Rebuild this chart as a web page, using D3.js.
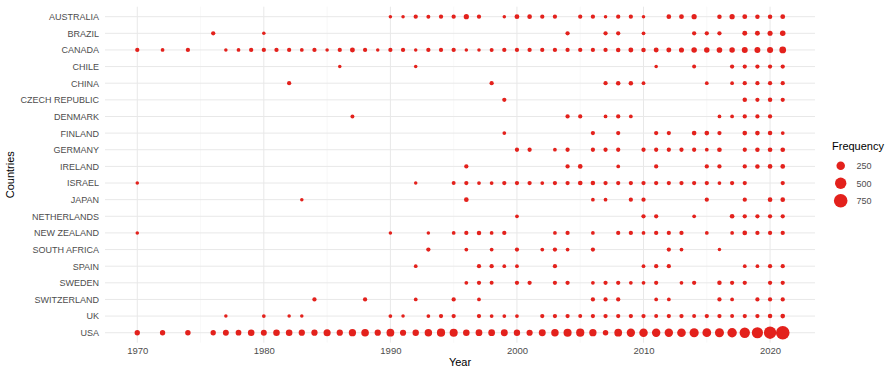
<!DOCTYPE html>
<html><head><meta charset="utf-8">
<script src="https://cdn.jsdelivr.net/npm/d3@7"></script>
<style>body{margin:0;background:#fff}text{font-family:"Liberation Sans",Arial,sans-serif}</style>
</head><body><svg id="chart" width="894" height="369"></svg>
<script>
const countries = ["AUSTRALIA","BRAZIL","CANADA","CHILE","CHINA","CZECH REPUBLIC","DENMARK","FINLAND","GERMANY","IRELAND","ISRAEL","JAPAN","NETHERLANDS","NEW ZEALAND","SOUTH AFRICA","SPAIN","SWEDEN","SWITZERLAND","UK","USA"];
const xTicks = [1970,1980,1990,2000,2010,2020];
const legendValues = [250,500,750];
// [year, frequency]
const australia = [[1990,20],[1991,20],[1992,38],[1993,30],[1994,38],[1995,38],[1996,70],[1997,38],[1999,20],[2000,55],[2001,50],[2002,38],[2003,38],[2005,38],[2006,38],[2007,20],[2008,38],[2009,38],[2010,20],[2012,50],[2013,55],[2014,70],[2016,45],[2017,70],[2018,55],[2019,45],[2020,45],[2021,55]];
const brazil = [[1976,38],[1980,20],[2004,38],[2007,38],[2008,38],[2010,25],[2014,38],[2015,38],[2016,38],[2018,60],[2019,60],[2020,65],[2021,80]];
const canada = [[1970,38],[1972,25],[1974,38],[1977,20],[1978,25],[1979,38],[1980,38],[1981,38],[1982,38],[1983,25],[1984,38],[1985,20],[1986,38],[1987,60],[1988,38],[1989,20],[1990,38],[1991,38],[1992,20],[1993,38],[1994,38],[1995,38],[1996,20],[1997,20],[1998,30],[1999,38],[2000,38],[2001,38],[2002,38],[2003,38],[2004,38],[2005,38],[2006,38],[2007,38],[2008,45],[2009,60],[2010,45],[2011,60],[2012,60],[2013,65],[2014,80],[2015,80],[2016,85],[2017,80],[2018,100],[2019,100],[2020,105],[2021,140]];
const chile = [[1986,20],[1992,20],[2011,20],[2014,30],[2017,38],[2018,38],[2019,38],[2020,38],[2021,38]];
const china = [[1982,38],[1998,38],[2007,38],[2008,45],[2009,45],[2010,25],[2015,25],[2017,25],[2018,38],[2019,38],[2020,38],[2021,38]];
const czech = [[1999,38],[2018,45],[2019,38],[2020,45],[2021,38]];
const denmark = [[1987,30],[2004,38],[2005,38],[2007,25],[2008,38],[2009,25],[2016,25],[2017,25],[2018,38],[2019,38],[2020,38]];
const finland = [[1999,25],[2006,38],[2008,38],[2011,38],[2012,38],[2014,50],[2015,50],[2016,38],[2018,50],[2019,50],[2020,45],[2021,25]];
const germany = [[2000,38],[2001,38],[2003,25],[2004,38],[2006,38],[2007,38],[2008,38],[2010,38],[2011,38],[2012,38],[2013,38],[2014,38],[2015,25],[2016,50],[2018,38],[2019,45],[2020,50],[2021,50]];
const ireland = [[1996,38],[2004,38],[2005,50],[2008,25],[2011,38],[2015,38],[2016,38],[2018,38],[2019,45],[2020,50],[2021,50]];
const israel = [[1970,20],[1992,20],[1995,30],[1996,38],[1997,25],[1998,25],[1999,38],[2000,38],[2001,38],[2002,25],[2003,38],[2004,38],[2005,50],[2006,45],[2007,38],[2008,38],[2009,38],[2010,38],[2011,38],[2012,38],[2013,38],[2014,38],[2015,38],[2016,25],[2017,38],[2018,38],[2021,38]];
const japan = [[1983,20],[1996,50],[2006,25],[2007,25],[2009,38],[2010,38],[2015,38],[2018,38],[2020,50],[2021,50]];
const netherlands = [[2000,25],[2010,38],[2011,38],[2014,25],[2017,50],[2018,38],[2019,38],[2020,38],[2021,38]];
const newZealand = [[1970,20],[1990,20],[1993,20],[1995,25],[1996,38],[1997,45],[1998,25],[1999,38],[2003,25],[2004,38],[2006,25],[2008,38],[2009,38],[2010,25],[2011,38],[2012,38],[2013,38],[2015,25],[2017,25],[2018,50],[2019,38],[2020,38],[2021,38]];
const southAfrica = [[1993,38],[1996,25],[1998,25],[2000,38],[2002,25],[2003,38],[2004,25],[2006,38],[2012,38],[2013,25],[2016,20]];
const spain = [[1992,25],[1997,38],[1998,38],[1999,25],[2000,25],[2003,38],[2010,25],[2011,38],[2012,38],[2018,25],[2019,25],[2020,38],[2021,38]];
const sweden = [[1996,25],[1997,38],[1998,30],[2000,38],[2001,38],[2003,38],[2004,38],[2006,25],[2007,38],[2008,38],[2009,25],[2010,25],[2011,38],[2013,25],[2014,38],[2016,45],[2017,38],[2018,38],[2020,38],[2021,38]];
const switzerland = [[1984,38],[1988,38],[1992,25],[1995,38],[1997,25],[2006,38],[2007,38],[2008,38],[2011,25],[2012,25],[2016,38],[2017,25],[2019,38],[2020,38],[2021,38]];
const uk = [[1977,20],[1980,25],[1982,20],[1983,20],[1990,25],[1991,20],[1993,25],[1994,38],[1995,38],[1997,38],[1998,25],[1999,25],[2000,25],[2002,38],[2003,38],[2004,38],[2005,30],[2006,38],[2007,38],[2008,38],[2009,38],[2010,38],[2011,30],[2012,38],[2013,38],[2014,30],[2015,38],[2016,38],[2017,30],[2018,38],[2019,38],[2020,45],[2021,50]];
const usa = [[1970,74],[1972,74],[1974,80],[1976,74],[1977,100],[1978,90],[1979,130],[1980,100],[1981,130],[1982,130],[1983,115],[1984,115],[1985,160],[1986,115],[1987,170],[1988,190],[1989,115],[1990,200],[1991,110],[1992,120],[1993,180],[1994,230],[1995,220],[1996,130],[1997,140],[1998,140],[1999,150],[2000,120],[2001,110],[2002,150],[2003,180],[2004,220],[2005,230],[2006,170],[2007,80],[2008,200],[2009,240],[2010,250],[2011,245],[2012,245],[2013,260],[2014,300],[2015,270],[2016,290],[2017,320],[2018,400],[2019,480],[2020,600],[2021,760]];
const seriesList = [australia,brazil,canada,chile,china,czech,denmark,finland,germany,ireland,israel,japan,netherlands,newZealand,southAfrica,spain,sweden,switzerland,uk,usa];

const data = [];
seriesList.forEach((s,i)=>s.forEach(([year,freq])=>data.push({country:countries[i],year,freq})));

const svg = d3.select("#chart");
const L=105, R=815, T=6.7, B=342.7;
const x = d3.scaleLinear().domain([1967.45,2023.55]).range([L,R]);
const y = d3.scalePoint().domain(countries).range([T,B]).padding(0.6);
const r = d3.scaleSqrt().domain([0,1000]).range([0.775,7.73]);
const col = "#e3211c";

const g = svg.append("g");
// minor gridlines
d3.range(1975,2021,10).forEach(v=>g.append("line").attr("x1",x(v)).attr("x2",x(v)).attr("y1",T).attr("y2",B).attr("stroke","#f3f3f3").attr("stroke-width",0.6));
// major gridlines
xTicks.forEach(v=>g.append("line").attr("x1",x(v)).attr("x2",x(v)).attr("y1",T).attr("y2",B).attr("stroke","#e8e8e8").attr("stroke-width",1));
countries.forEach(c=>g.append("line").attr("x1",L).attr("x2",R).attr("y1",y(c)).attr("y2",y(c)).attr("stroke","#e8e8e8").attr("stroke-width",1));

// axes
const xAxis = svg.append("g").attr("transform",`translate(0,${B})`).call(d3.axisBottom(x).tickValues(xTicks).tickFormat(d3.format("d")).tickSize(0).tickPadding(5));
xAxis.select(".domain").remove();
xAxis.selectAll("text").attr("fill","#4d4d4d").style("font-size","9.5px");
const yAxis = svg.append("g").attr("transform",`translate(${L},0)`).call(d3.axisLeft(y).tickSize(0).tickPadding(6));
yAxis.select(".domain").remove();
yAxis.selectAll("text").attr("fill","#4d4d4d").style("font-size","9px");

// points
svg.append("g").selectAll("circle").data(data).join("circle")
  .attr("cx",d=>x(d.year)).attr("cy",d=>y(d.country)).attr("r",d=>r(d.freq)).attr("fill",col);

// axis titles
svg.append("text").attr("x",(L+R)/2).attr("y",366).attr("text-anchor","middle").style("font-size","11px").attr("fill","#000").text("Year");
svg.append("text").attr("transform",`translate(14,${(T+B)/2}) rotate(-90)`).attr("text-anchor","middle").style("font-size","11px").attr("fill","#000").text("Countries");

// legend
const lg = svg.append("g");
lg.append("text").attr("x",832).attr("y",149.5).style("font-size","11px").attr("fill","#000").text("Frequency");
legendValues.forEach((v,i)=>{
  const cy = 165.7 + i*17.5;
  lg.append("circle").attr("cx",840.7).attr("cy",cy).attr("r",r(v)).attr("fill",col);
  lg.append("text").attr("x",856.5).attr("y",cy+3.3).style("font-size","9px").attr("fill","#4d4d4d").text(v);
});
</script></body></html>
